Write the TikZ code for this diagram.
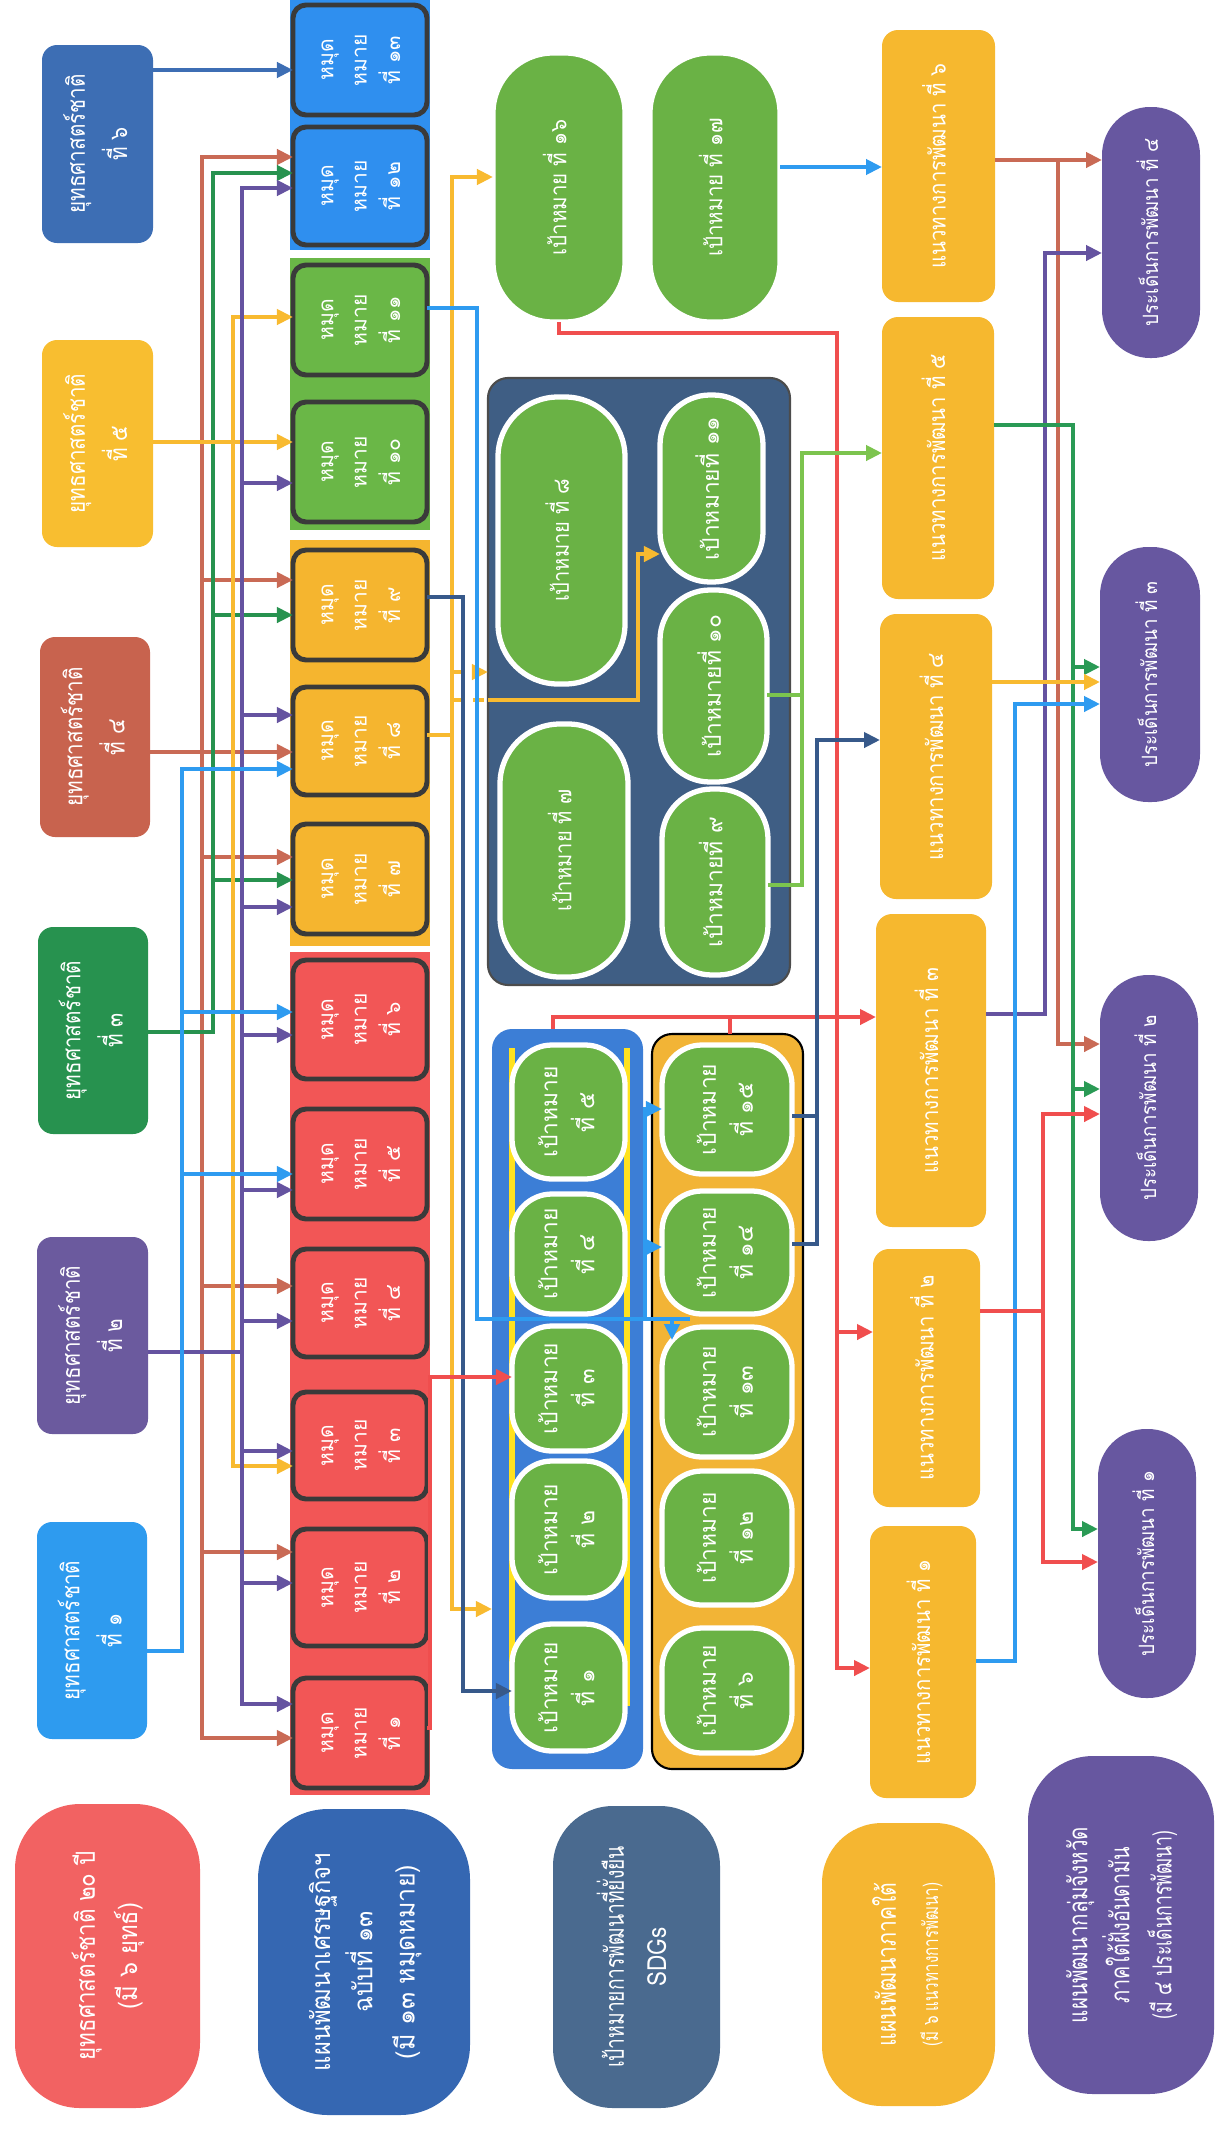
\documentclass[tikz,border=0pt]{standalone}
\usepackage{fontspec}
\setmainfont{Loma}[Script=Thai]
\usepackage{graphicx}
\usetikzlibrary{arrows.meta}
\definecolor{cS6}{HTML}{3D6EB4}
\definecolor{cS5}{HTML}{F8BE30}
\definecolor{cS4}{HTML}{C8634E}
\definecolor{cS3}{HTML}{27924F}
\definecolor{cS2}{HTML}{6B5A9E}
\definecolor{cS1}{HTML}{2E9BEF}
\definecolor{mBlue}{HTML}{2F8FEF}
\definecolor{mGreen}{HTML}{6AB747}
\definecolor{mYel}{HTML}{F5B52F}
\definecolor{mRed}{HTML}{F25656}
\definecolor{mEdge}{HTML}{3A3A3A}
\definecolor{gGreen}{HTML}{6AB245}
\definecolor{navy}{HTML}{3F5E84}
\definecolor{sdgBlue}{HTML}{3C7ED6}
\definecolor{sdgYel}{HTML}{F2B436}
\definecolor{spYel}{HTML}{F6B82F}
\definecolor{dvPur}{HTML}{6757A0}
\definecolor{lgRed}{HTML}{F26262}
\definecolor{lgBlue}{HTML}{3567B2}
\definecolor{lgNavy}{HTML}{4A6A8F}
\definecolor{lgYel}{HTML}{F5B631}
\definecolor{lineRed}{HTML}{F04E4E}
\definecolor{lineNavy}{HTML}{37598A}
\definecolor{lineGreen}{HTML}{7CC44E}
\definecolor{lineGreenD}{HTML}{2A9A55}
\definecolor{lineYel}{HTML}{F8BA30}
\definecolor{lineBlue}{HTML}{2E9BF0}
\definecolor{lineBrown}{HTML}{C96A55}
\definecolor{linePur}{HTML}{6553A0}
\definecolor{yelStripe}{HTML}{FFE21F}
\def\cf{1}
\newcommand\cx[2]{\scalebox{#1}[1]{#2}}
\newcommand\rt[1]{\rotatebox{90}{\scalebox{\cf}[1]{\begin{tabular}{@{}c@{}}#1\end{tabular}}}}
\newcommand\bx[7]{\node[#6, minimum width={(#4-#2)*0.01cm}, minimum height={(#5-#3)*0.01cm}] (#1) at ({(#2+#4)/2},{(#3+#5)/2}) {\rt{#7}};}
\tikzset{
  base/.style={inner sep=0pt, outer sep=0pt, text=white},
  compress/.style={execute at begin node={\def\cf{#1}}},
  stratbox/.style={base, rounded corners=0.15cm, font=\fontsize{7}{12}\selectfont, compress=0.84},
  stripbox/.style={base},
  mbox/.style={base, draw=mEdge, line width=1.4pt, rounded corners=0.13cm, font=\fontsize{6}{9.5}\selectfont},
  goalcap/.style={base, fill=gGreen, draw=white, line width=1.5pt, font=\fontsize{6.5}{10.5}\selectfont},
  contbox/.style={base, rounded corners=0.2cm},
  spbox/.style={base, fill=spYel, rounded corners=0.16cm, font=\fontsize{6.5}{10}\selectfont, compress=0.89},
  devbox/.style={base, fill=dvPur, rounded corners=0.48cm, font=\fontsize{6}{10}\selectfont, compress=0.89},
  legbox/.style={base, rounded corners=0.65cm, font=\fontsize{7.5}{12}\selectfont},
  ln/.style={line width=1.3pt},
  bus/.style={ln, line cap=rect},
  ar/.style={ln, -{Triangle[length=0.16cm,width=0.15cm]}},
}
\begin{document}
\begin{tikzpicture}[x=0.01cm,y=-0.01cm]
\useasboundingbox (0,0) rectangle (1216,2130);
% ---------- strategies ----------
\bx{s6}{42}{45}{153}{243}{stratbox,fill=cS6}{ยุทธศาสตร์ชาติ\\ที่ ๖}
\bx{s5}{42}{340}{153}{547}{stratbox,fill=cS5}{ยุทธศาสตร์ชาติ\\ที่ ๕}
\bx{s4}{40}{637}{150}{837}{stratbox,fill=cS4}{ยุทธศาสตร์ชาติ\\ที่ ๔}
\bx{s3}{38}{927}{148}{1134}{stratbox,fill=cS3}{ยุทธศาสตร์ชาติ\\ที่ ๓}
\bx{s2}{37}{1237}{148}{1434}{stratbox,fill=cS2}{ยุทธศาสตร์ชาติ\\ที่ ๒}
\bx{s1}{37}{1522}{147}{1739}{stratbox,fill=cS1}{ยุทธศาสตร์ชาติ\\ที่ ๑}
% ---------- milestone strips ----------
\bx{stB}{290}{0}{430}{250}{stripbox,fill=mBlue}{}
\bx{stG}{290}{258}{430}{530}{stripbox,fill=mGreen}{}
\bx{stY}{290}{540}{430}{946}{stripbox,fill=mYel}{}
\bx{stR}{290}{952}{430}{1795}{stripbox,fill=mRed}{}
% ---------- milestones ----------
\bx{m13}{293}{5}{427}{115}{mbox,fill=mBlue}{หมุด\\หมาย\\ที่ ๑๓}
\bx{m12}{293}{127}{427}{245}{mbox,fill=mBlue}{หมุด\\หมาย\\ที่ ๑๒}
\bx{m11}{293}{265}{427}{375}{mbox,fill=mGreen}{หมุด\\หมาย\\ที่ ๑๑}
\bx{m10}{293}{402}{427}{522}{mbox,fill=mGreen}{หมุด\\หมาย\\ที่ ๑๐}
\bx{m9}{293}{550}{427}{660}{mbox,fill=mYel}{หมุด\\หมาย\\ที่ ๙}
\bx{m8}{293}{687}{427}{795}{mbox,fill=mYel}{หมุด\\หมาย\\ที่ ๘}
\bx{m7}{293}{824}{427}{934}{mbox,fill=mYel}{หมุด\\หมาย\\ที่ ๗}
\bx{m6}{293}{960}{427}{1079}{mbox,fill=mRed}{หมุด\\หมาย\\ที่ ๖}
\bx{m5}{293}{1109}{427}{1219}{mbox,fill=mRed}{หมุด\\หมาย\\ที่ ๕}
\bx{m4}{293}{1249}{427}{1357}{mbox,fill=mRed}{หมุด\\หมาย\\ที่ ๔}
\bx{m3}{293}{1392}{427}{1499}{mbox,fill=mRed}{หมุด\\หมาย\\ที่ ๓}
\bx{m2}{293}{1529}{427}{1646}{mbox,fill=mRed}{หมุด\\หมาย\\ที่ ๒}
\bx{m1}{293}{1678}{427}{1788}{mbox,fill=mRed}{หมุด\\หมาย\\ที่ ๑}
% ---------- SDG goals ----------
\bx{g16}{493}{53}{625}{322}{goalcap,rounded corners=0.6cm,compress=0.9}{เป้าหมาย ที่ ๑๖}
\bx{g17}{650}{53}{780}{322}{goalcap,rounded corners=0.6cm,compress=0.9}{เป้าหมาย ที่ ๑๗}
\bx{nv}{488}{378}{790}{985}{contbox,fill=navy,draw=black!70,line width=0.6pt}{}
\bx{g8}{498}{397}{625}{684}{goalcap,rounded corners=0.6cm,compress=0.88}{เป้าหมาย ที่ ๘}
\bx{g7}{500}{724}{628}{977}{goalcap,rounded corners=0.6cm,compress=0.88}{เป้าหมาย ที่ ๗}
\bx{g11}{660}{395}{763}{582}{goalcap,rounded corners=0.5cm}{เป้าหมายที่ ๑๑}
\bx{g10}{660}{590}{767}{782}{goalcap,rounded corners=0.5cm}{เป้าหมายที่ ๑๐}
\bx{g9}{662}{789}{768}{975}{goalcap,rounded corners=0.5cm}{เป้าหมายที่ ๙}
\bx{sb}{492}{1029}{643}{1769}{contbox,fill=sdgBlue}{}
\bx{sy}{652}{1034}{803}{1769}{contbox,fill=sdgYel,draw=black,line width=0.6pt}{}
\draw[yelStripe,line width=1.6pt] (512,1048) -- (512,1706);
\draw[yelStripe,line width=1.6pt] (627,1048) -- (627,1706);
\bx{g5}{512}{1045}{625}{1179}{goalcap,rounded corners=0.4cm}{เป้าหมาย\\ที่ ๕}
\bx{g4}{512}{1194}{625}{1314}{goalcap,rounded corners=0.4cm}{เป้าหมาย\\ที่ ๔}
\bx{g3}{512}{1326}{625}{1451}{goalcap,rounded corners=0.4cm}{เป้าหมาย\\ที่ ๓}
\bx{g2}{512}{1461}{625}{1598}{goalcap,rounded corners=0.4cm}{เป้าหมาย\\ที่ ๒}
\bx{g1}{512}{1624}{625}{1751}{goalcap,rounded corners=0.4cm}{เป้าหมาย\\ที่ ๑}
\bx{g15}{662}{1045}{792}{1174}{goalcap,rounded corners=0.4cm}{เป้าหมาย\\ที่ ๑๕}
\bx{g14}{662}{1191}{792}{1314}{goalcap,rounded corners=0.4cm}{เป้าหมาย\\ที่ ๑๔}
\bx{g13}{662}{1327}{792}{1457}{goalcap,rounded corners=0.4cm}{เป้าหมาย\\ที่ ๑๓}
\bx{g12}{662}{1471}{792}{1605}{goalcap,rounded corners=0.4cm}{เป้าหมาย\\ที่ ๑๒}
\bx{g6}{662}{1628}{792}{1753}{goalcap,rounded corners=0.4cm}{เป้าหมาย\\ที่ ๖}
% ---------- southern plan ----------
\bx{sp6}{882}{30}{995}{302}{spbox}{แนวทางการพัฒนา ที่ ๖}
\bx{sp5}{882}{317}{994}{599}{spbox}{แนวทางการพัฒนา ที่ ๕}
\bx{sp4}{880}{614}{992}{899}{spbox}{แนวทางการพัฒนา ที่ ๔}
\bx{sp3}{876}{914}{986}{1227}{spbox}{แนวทางการพัฒนา ที่ ๓}
\bx{sp2}{873}{1249}{980}{1507}{spbox}{แนวทางการพัฒนา ที่ ๒}
\bx{sp1}{870}{1526}{976}{1798}{spbox}{แนวทางการพัฒนา ที่ ๑}
% ---------- provincial issues ----------
\bx{d4}{1102}{107}{1200}{358}{devbox}{ประเด็นการพัฒนา ที่ ๔}
\bx{d3}{1100}{547}{1200}{802}{devbox}{ประเด็นการพัฒนา ที่ ๓}
\bx{d2}{1100}{975}{1198}{1241}{devbox}{ประเด็นการพัฒนา ที่ ๒}
\bx{d1}{1098}{1429}{1196}{1698}{devbox}{ประเด็นการพัฒนา ที่ ๑}
% ---------- legend ----------
\bx{L1}{15}{1804}{200}{2108}{legbox,fill=lgRed}{\cx{0.85}{ยุทธศาสตร์ชาติ ๒๐ ปี}\\\cx{0.9}{(มี ๖ ยุทธ์)}}
\bx{L2}{258}{1809}{470}{2115}{legbox,fill=lgBlue,rounded corners=0.7cm}{\cx{0.9}{แผนพัฒนาเศรษฐกิจฯ}\\\cx{0.9}{ฉบับที่ ๑๓}\\\cx{0.95}{(มี ๑๓ หมุดหมาย)}}
\bx{L3}{553}{1806}{720}{2108}{legbox,fill=lgNavy,rounded corners=0.6cm}{\cx{0.73}{เป้าหมายการพัฒนาที่ยั่งยืน}\\\cx{0.85}{SDGs}}
\bx{L4}{822}{1823}{995}{2106}{legbox,fill=lgYel,rounded corners=0.6cm}{\cx{0.8}{แผนพัฒนาภาคใต้}\\{\fontsize{6}{10}\selectfont\cx{0.72}{(มี ๖ แนวทางการพัฒนา)}}}
\bx{L5}{1028}{1756}{1214}{2094}{legbox,fill=dvPur}{\cx{0.78}{แผนพัฒนากลุ่มจังหวัด}\\\cx{0.75}{ภาคใต้ฝั่งอันดามัน}\\\cx{0.67}{(มี ๔ ประเด็นการพัฒนา)}}
% ---------- bus coordinates ----------
\coordinate (bL) at (182,0);
\coordinate (bB) at (202,0);
\coordinate (bG) at (213,0);
\coordinate (bY) at (233,0);
\coordinate (bP) at (242,0);
% ---------- strategy -> milestone ----------
\draw[ar,cS6] (s6.east |- 0,70) -- (m13.west |- 0,70);
\draw[bus,lineBrown] (bB |- 0,157) -- (bB |- 0,1738);
\foreach \yy/\tt in {157/m12,580/m9,857/m7,1286/m4,1552/m2,1738/m1}
  \draw[ar,lineBrown] (bB |- 0,\yy) -- (\tt.west |- 0,\yy);
\draw[ar,lineBrown] (s4.east |- 0,752) -- (m8.west |- 0,752);
\draw[bus,cS3] (bG |- 0,173) -- (bG |- 0,1032);
\draw[ln,cS3] (s3.east |- 0,1032) -- (bG |- 0,1032);
\foreach \yy/\tt in {173/m12,615/m9,880/m7}
  \draw[ar,cS3] (bG |- 0,\yy) -- (\tt.west |- 0,\yy);
\draw[bus,lineYel] (bY |- 0,317) -- (bY |- 0,1466);
\foreach \yy/\tt in {317/m11,1466/m3}
  \draw[ar,lineYel] (bY |- 0,\yy) -- (\tt.west |- 0,\yy);
\draw[ar,lineYel] (s5.east |- 0,442) -- (m10.west |- 0,442);
\draw[bus,linePur] (bP |- 0,188) -- (bP |- 0,1704);
\draw[ln,linePur] (s2.east |- 0,1352) -- (bP |- 0,1352);
\foreach \yy/\tt in {188/m12,483/m10,715/m8,907/m7,1035/m6,1190/m5,1321/m4,1451/m3,1583/m2,1704/m1}
  \draw[ar,linePur] (bP |- 0,\yy) -- (\tt.west |- 0,\yy);
\draw[bus,lineBlue] (bL |- 0,769) -- (bL |- 0,1651);
\draw[ln,lineBlue] (s1.east |- 0,1651) -- (bL |- 0,1651);
\foreach \yy/\tt in {769/m8,1012/m6,1174/m5}
  \draw[ar,lineBlue] (bL |- 0,\yy) -- (\tt.west |- 0,\yy);
% ---------- milestone -> SDG ----------
\coordinate (yv) at (452,0);
\draw[ln,lineYel] (m8.east |- 0,735) -- (yv |- 0,735);
\draw[bus,lineYel] (yv |- 0,177) -- (yv |- 0,1609);
\draw[ar,lineYel] (yv |- 0,177) -- (g16.west |- 0,177);
\draw[ar,lineYel,dashed] (yv |- 0,672) -- (nv.west |- 0,672);
\draw[ln,lineYel,dashed] (yv |- 0,700) -- (nv.west |- 0,700);
\draw[ar,lineYel] (nv.west |- 0,700) -- (638,700) -- (638,554) -- (g11.west |- 0,554);
\draw[ar,lineYel] (yv |- 0,1609) -- (sb.west |- 0,1609);
\draw[ln,lineBlue] (m11.east |- 0,308) -| (477,1319) -- (690,1319);
\draw[ar,lineBlue] (672,1319) -- (672,1340);
\draw[bus,lineBlue] (645,1319) -- (645,1109);
\draw[ar,lineBlue] (645,1109) -- (g15.west |- 0,1109);
\draw[ar,lineBlue] (645,1247) -- (g14.west |- 0,1247);
\draw[ar,lineNavy] (m9.east |- 0,597) -| (463,1691) -- (g1.west |- 0,1691);
\draw[ar,lineRed] (m1.east |- 0,1728) -- (430,1728) -- (430,1377) -- (g3.west |- 0,1377);
% ---------- SDG -> southern plan ----------
\draw[ar,lineRed] (g16.south) |- (837,333) -- (837,1668) -- (sp1.west |- 0,1668);
\draw[ar,lineRed] (837,1332) -- (sp2.west |- 0,1332);
\draw[ar,lineRed] (sb.north -| 553,0) -- (553,1017) -- (sp3.west |- 0,1017);
\draw[ln,lineRed] (sy.north -| 730,0) -- (730,1017);
\draw[ln,lineNavy] (g15.east |- 0,1116) -- (817,1116);
\draw[ar,lineNavy] (g14.east |- 0,1244) -| (817,740) -- (sp4.west |- 0,740);
\draw[ln,lineGreen] (g10.east |- 0,695) -- (802,695);
\draw[ar,lineGreen] (g9.east |- 0,885) -| (802,453) -- (sp5.west |- 0,453);
\draw[ar,lineBlue] (g17.east |- 0,167) -- (sp6.west |- 0,167);
% ---------- southern plan -> provincial ----------
\draw[ar,lineBrown] (sp6.east |- 0,160) -- (d4.west |- 0,160);
\draw[ar,lineBrown] (1058,160) -- (1058,1044) -- (d2.west |- 0,1044);
\draw[ar,linePur] (sp3.east |- 0,1014) -| (1045,253) -- (d4.west |- 0,253);
\draw[ar,lineGreenD] (sp5.east |- 0,425) -| (1073,1529) -- (d1.west |- 0,1529);
\draw[ar,lineGreenD] (1073,667) -- (d3.west |- 0,667);
\draw[ar,lineGreenD] (1073,1089) -- (d2.west |- 0,1089);
\draw[ar,lineYel] (sp4.east |- 0,682) -- (d3.west |- 0,682);
\draw[ar,lineBlue] (sp1.east |- 0,1661) -| (1015,704) -- (d3.west |- 0,704);
\draw[ar,lineRed] (sp2.east |- 0,1311) -| (1043,1114) -- (d2.west |- 0,1114);
\draw[ar,lineRed] (1043,1311) |- (d1.west |- 0,1562);
\end{tikzpicture}
\end{document}
